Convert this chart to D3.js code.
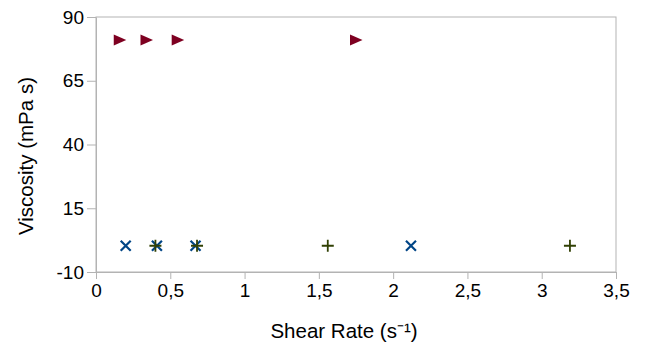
<!DOCTYPE html>
<html>
<head>
<meta charset="utf-8">
<script src="https://cdn.jsdelivr.net/npm/d3@7/dist/d3.min.js"></script>
<style>
  html, body { margin: 0; padding: 0; background: #fff; }
  svg { display: block; font-family: "Liberation Sans", Arial, sans-serif; }
</style>
</head>
<body>
<svg id="chart" width="656" height="345"></svg>
<script>
// Viscosity vs. shear rate, three measurement series
const seriesA_x = [0.16, 0.34, 0.55, 1.75];   // triangles
const seriesA_y = [81, 81, 81, 81];
const seriesB_x = [0.20, 0.41, 0.67, 2.12];   // crosses
const seriesB_y = [0.3, 0.3, 0.3, 0.3];
const seriesC_x = [0.40, 0.68, 1.56, 3.19];   // plus signs
const seriesC_y = [0.3, 0.3, 0.3, 0.3];

const xTicks = [0, 0.5, 1, 1.5, 2, 2.5, 3, 3.5];
const yTicks = [-10, 15, 40, 65, 90];

const svg = d3.select("#chart");
const margin = { left: 96, right: 40, top: 17, bottom: 73 };
const W = 656, H = 345;
const x = d3.scaleLinear().domain([0, 3.5]).range([margin.left, W - margin.right]);
const y = d3.scaleLinear().domain([-10, 90]).range([H - margin.bottom, margin.top]);

const axisColor = "#b3b3b3";
const fmtX = d => String(d).replace(".", ",");
const fmtY = d => String(d);   // plain hyphen for negatives

// plot frame
svg.append("rect")
  .attr("x", x(0)).attr("y", y(90))
  .attr("width", x(3.5) - x(0)).attr("height", y(-10) - y(90))
  .attr("fill", "none").attr("stroke", axisColor).attr("stroke-width", 1);

const xAxis = svg.append("g")
  .attr("transform", `translate(0,${y(-10)})`)
  .call(d3.axisBottom(x).tickValues(xTicks).tickFormat(fmtX).tickSizeOuter(0).tickSizeInner(7).tickPadding(5));
const yAxis = svg.append("g")
  .attr("transform", `translate(${x(0)},0)`)
  .call(d3.axisLeft(y).tickValues(yTicks).tickFormat(fmtY).tickSizeOuter(0).tickSizeInner(9).tickPadding(3));

[xAxis, yAxis].forEach(g => {
  g.selectAll("path").attr("stroke", axisColor);
  g.selectAll("line").attr("stroke", axisColor);
  g.selectAll("text").attr("fill", "#000").style("font-size", "19px")
    .style("font-family", "'Liberation Sans', Arial, sans-serif");
});

// axis titles
svg.append("text")
  .attr("x", 344).attr("y", 338)
  .attr("text-anchor", "middle").style("font-size", "20.5px")
  .text("Shear Rate (s\u207B\u00B9)");
svg.append("text")
  .attr("transform", `translate(33,156) rotate(-90)`)
  .attr("text-anchor", "middle").style("font-size", "20.5px")
  .text("Viscosity (mPa s)");

const zip = (xs, ys) => xs.map((v, i) => [v, ys[i]]);

// series A: right-pointing triangles
svg.append("g").selectAll("path")
  .data(zip(seriesA_x, seriesA_y)).join("path")
  .attr("transform", d => `translate(${x(d[0])},${y(d[1])})`)
  .attr("d", "M-6,-5.5L6.5,0L-6,5.5Z")
  .attr("fill", "#7e0021");

// series B: diagonal crosses
svg.append("g").selectAll("path")
  .data(zip(seriesB_x, seriesB_y)).join("path")
  .attr("transform", d => `translate(${x(d[0])},${y(d[1])})`)
  .attr("d", "M-5,-5L5,5M-5,5L5,-5")
  .attr("stroke", "#004586").attr("stroke-width", 2.2).attr("fill", "none");

// series C: plus signs
svg.append("g").selectAll("path")
  .data(zip(seriesC_x, seriesC_y)).join("path")
  .attr("transform", d => `translate(${x(d[0])},${y(d[1])})`)
  .attr("d", "M-6,0L6,0M0,-6L0,6")
  .attr("stroke", "#314004").attr("stroke-width", 1.8).attr("fill", "none");
</script>
</body>
</html>
